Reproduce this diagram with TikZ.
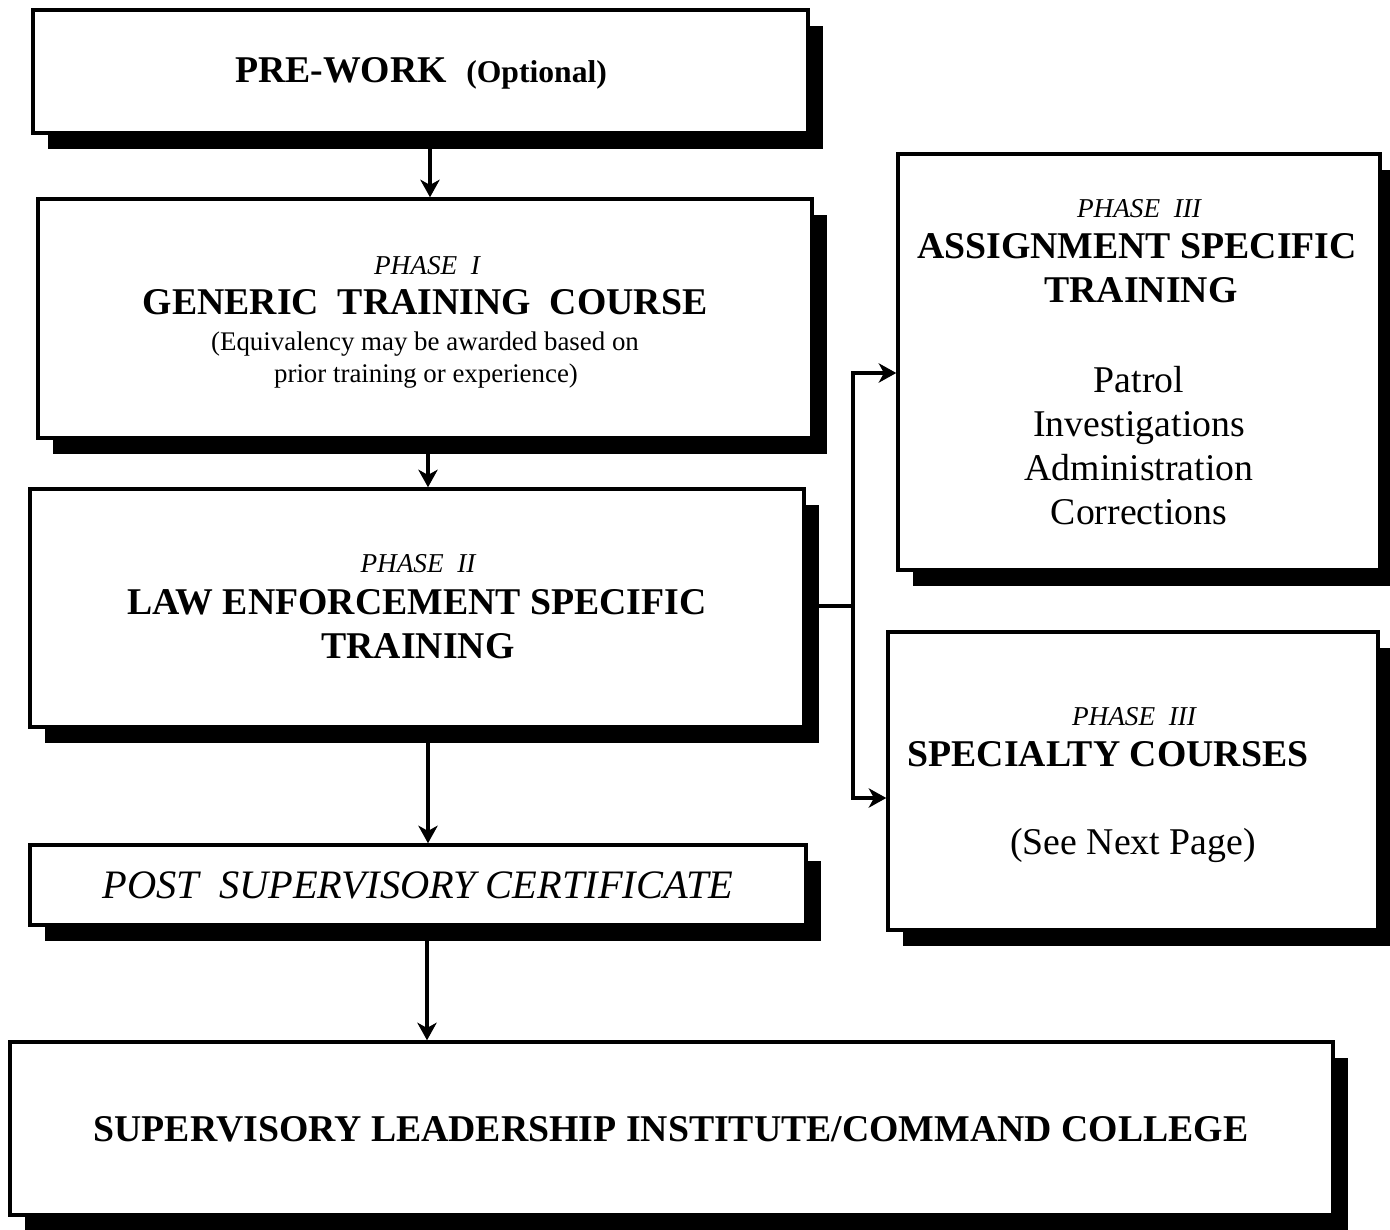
\documentclass[tikz,border=0pt]{standalone}
\usepackage{fontspec}
\setmainfont{Liberation Serif}
\usetikzlibrary{arrows.meta,shadows}
% type sizes used in the chart
\newcommand\headfont{\fontsize{21.5pt}{25pt}\selectfont\bfseries}
\newcommand\phasefont{\fontsize{15.5pt}{18pt}\selectfont\itshape}
\newcommand\notefont{\fontsize{15.3pt}{18pt}\selectfont}
\newcommand\listfont{\fontsize{21.5pt}{25pt}\selectfont}
\begin{document}
\begin{tikzpicture}[x=0.02cm,y=-0.02cm,
  box/.style={draw,line width=2pt,fill=white,inner sep=0pt,
    drop shadow={shadow xshift=0.3cm,shadow yshift=-0.32cm,fill=black,opacity=1}},
  txt/.style={anchor=base,inner sep=0pt},
  link/.style={line width=2pt},
  arr/.style={link,-{Stealth[length=10pt,width=11pt,inset=3pt]}}]
\useasboundingbox (0,0) rectangle (1390,1230);

% boxes
\node[box,minimum width=15.5cm,minimum height=2.46cm] (pre) at (420.5,71.5) {};
\node[box,minimum width=15.48cm,minimum height=4.78cm] (p1) at (425,318.5) {};
\node[box,minimum width=15.48cm,minimum height=4.76cm] (p2) at (417,608) {};
\node[box,minimum width=15.52cm,minimum height=1.6cm] (post) at (418,885) {};
\node[box,minimum width=26.46cm,minimum height=3.46cm] (sli) at (671.5,1128.5) {};
\node[box,minimum width=9.64cm,minimum height=8.32cm] (asg) at (1139,362) {};
\node[box,minimum width=9.8cm,minimum height=5.96cm] (spc) at (1133,781) {};

% vertical flow
\coordinate (xa) at (430,0);
\coordinate (xb) at (428,0);
\coordinate (xc) at (427,0);
\draw[arr] (pre.south -| xa) -- (p1.north -| xa);
\draw[arr] (p1.south -| xb) -- (p2.north -| xb);
\draw[arr] (p2.south -| xb) -- (post.north -| xb);
\draw[arr] (post.south -| xc) -- (sli.north -| xc);

% branch to the phase III boxes
\coordinate (jn) at (853,606);
\draw[link,line cap=rect] (p2.east |- jn) -- (jn);
\draw[arr] (jn) |- ([yshift=-0.22cm]asg.west);
\draw[arr] (jn) |- ([yshift=-0.34cm]spc.west);

% texts
\node[txt] (t0) at (421,83) {{\headfont PRE-WORK}\hspace{11pt}{\fontsize{18pt}{21pt}\selectfont\bfseries(Optional)}};

\node[txt] (t1a) at (427,274) {\phasefont PHASE\hspace{0.5em}I};
\node[txt] (t1b) at (425,314) {\headfont GENERIC\hspace{0.5em}TRAINING\hspace{0.5em}COURSE};
\node[txt] (t1c) at (425,350) {\notefont (Equivalency may be awarded based on};
\node[txt] (t1d) at (426,382) {\notefont prior training or experience)};

\node[txt] (t2a) at (418,572) {\phasefont PHASE\hspace{0.5em}II};
\node[txt] (t2b) at (417,614) {\headfont LAW ENFORCEMENT SPECIFIC};
\node[txt] (t2c) at (418,658) {\headfont TRAINING};

\node[txt] (t3) at (418,898) {\fontsize{23pt}{27pt}\selectfont\itshape POST\hspace{0.5em}SUPERVISORY CERTIFICATE};

\node[txt] (t4) at (671,1141) {\headfont SUPERVISORY LEADERSHIP INSTITUTE/COMMAND COLLEGE};

\node[txt] (t5a) at (1139,217) {\phasefont PHASE\hspace{0.5em}III};
\node[txt] (t5b) at (1137,258) {\headfont ASSIGNMENT SPECIFIC};
\node[txt] (t5c) at (1141,302) {\headfont TRAINING};
\node[txt] (t5d) at (1139,392) {\listfont Patrol};
\node[txt] (t5e) at (1139,436) {\listfont Investigations};
\node[txt] (t5f) at (1139,480) {\listfont Administration};
\node[txt] (t5g) at (1139,524) {\listfont Corrections};

\node[txt] (t6a) at (1134,725) {\phasefont PHASE\hspace{0.5em}III};
\node[txt] (t6b) at (1108,766) {\headfont SPECIALTY COURSES};
\node[txt] (t6c) at (1133,854) {\listfont (See Next Page)};
\end{tikzpicture}
\end{document}
